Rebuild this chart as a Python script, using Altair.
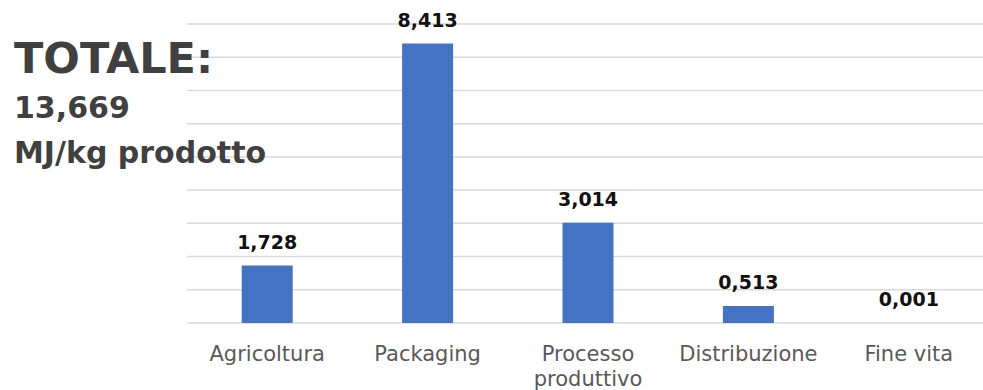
import altair as alt
import pandas as pd

categories = ["Agricoltura", "Packaging", "Processo produttivo", "Distribuzione", "Fine vita"]
values = [1.728, 8.413, 3.014, 0.513, 0.001]
grid_values = [0, 1, 2, 3, 4, 5, 6, 7, 8, 9]
title_main = ["TOTALE:"]
title_value = ["13,669"]
title_unit = ["MJ/kg prodotto"]

df = pd.DataFrame({
    "fase": categories,
    "valore": values,
    "etichetta": [f"{v:.3f}".replace(".", ",") for v in values],
})
grid_df = pd.DataFrame({"valore": grid_values})

FONT = "DejaVu Sans"

x_enc = alt.X(
    "fase:N",
    sort=categories,
    scale=alt.Scale(range=[0, 802], paddingInner=0.682, paddingOuter=0.341),
    axis=alt.Axis(
        title=None, domain=False, ticks=False, grid=False, labelAngle=0,
        labelFont=FONT, labelFontSize=21, labelColor="#595959",
        labelPadding=20, labelLineHeight=25,
        labelExpr="length(datum.label) > 14 ? split(datum.label, ' ') : datum.label",
    ),
)
y_scale = alt.Scale(domain=[0, 9], nice=False, zero=True)
y_enc = alt.Y("valore:Q", scale=y_scale, axis=None)

grid = alt.Chart(grid_df).mark_rule(color="#d9d9d9", strokeWidth=1.5).encode(
    y=y_enc, x=alt.value(0), x2=alt.value(796)
)

base = alt.Chart(df)
bars = base.mark_bar(color="#4472C4").encode(x=x_enc, y=y_enc)
labels = base.mark_text(
    font=FONT, fontSize=19, fontWeight="bold", color="#111111",
    baseline="alphabetic", dy=-17,
).encode(x=x_enc, y=y_enc, text="etichetta:N")

def note(lines, size, y):
    return alt.Chart(pd.DataFrame({"t": lines})).mark_text(
        font=FONT, fontSize=size, fontWeight="bold", color="#404040",
        align="left", baseline="alphabetic",
    ).encode(x=alt.value(-173), y=alt.value(y), text="t:N")

t1 = note(title_main, 43, 49)
t2 = note(title_value, 30, 94)
t3 = note(title_unit, 30, 139)

chart = alt.layer(grid, bars, labels, t1, t2, t3).properties(
    width=796, height=299,
    background="white",
    autosize=alt.AutoSizeParams(type="none"),
    padding={"left": 187, "top": 24, "right": 0, "bottom": 67},
).configure_view(strokeWidth=0)

chart.save("out.html", embed_options={"renderer": "svg", "actions": False})
